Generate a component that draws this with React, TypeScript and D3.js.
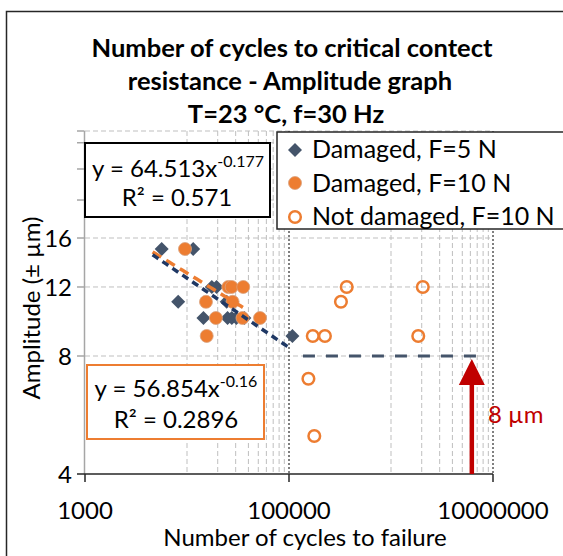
import React from 'react';
import * as d3 from 'd3';

// ---- data ----
const damaged5Cycles = [5650, 11500, 8200, 17500, 19500, 24500, 14500, 25000, 27500, 30500, 36500, 108000];
const damaged5Amp = [15, 15, 11, 12, 12, 11, 10, 10, 10, 10, 10, 9];
const damaged10Cycles = [9560, 25400, 27400, 35600, 15350, 28000, 19200, 35000, 52000, 15600];
const damaged10Amp = [15, 12, 12, 12, 11, 11, 10, 10, 10, 9];
const notDamagedCycles = [368000, 323000, 171000, 225000, 2050000, 1850000, 155000, 177000];
const notDamagedAmp = [12, 11, 9, 9, 12, 9, 7, 5];

const xTickValues = [1000, 100000, 10000000];
const xTickLabels = ['1000', '100000', '10000000'];
const yTickValues = [4, 8, 12, 16];
const yTickLabels = ['4', '8', '12', '16'];
const yGridValues = [8, 12, 16, 20, 24, 28, 30];
const yTickMarks = [8, 12, 16, 20, 24, 28, 30];
const xMinorGrid = [10000, 20000, 30000, 40000, 50000, 60000, 70000, 80000, 90000,
  1000000, 2000000, 3000000, 4000000, 5000000, 6000000, 7000000, 8000000, 9000000];
const xMajorGrid = [100000, 10000000];

// trendlines (power fits as printed on chart)
const trendA = [64.513, 56.854];
const trendB = [-0.177, -0.16];
const trendFrom = [4600, 4600];
const trendTo = [104000, 37000];

const thresholdAmp = 8;
const thresholdFrom = 137000;
const thresholdTo = 7450000;
const arrowCycles = 6200000;

const legendLabels = ['Damaged, F=5 N', 'Damaged, F=10 N', 'Not damaged, F=10 N'];

const FONT = 'Lato, "Open Sans", sans-serif';
const NAVY = '#44546a';
const ORANGE = '#ed7d31';
const RED = '#c00000';

export default function App() {
  const x = d3.scaleLog().domain([1000, 10000000]).range([85, 493]);
  const y = d3.scaleLog().base(2).domain([4, 30]).range([474, 131]);

  const trendPath = (i: number) => {
    const lf = Math.log10(trendFrom[i]);
    const lt = Math.log10(trendTo[i]);
    const pts = d3.range(0, 41).map(k => {
      const n = Math.pow(10, lf + (lt - lf) * k / 40);
      return [n, trendA[i] * Math.pow(n, trendB[i])] as [number, number];
    });
    return d3.line<[number, number]>().x(d => x(d[0])).y(d => y(d[1]))(pts) || '';
  };

  const diamond = (cx: number, cy: number, r: number) =>
    `M${cx},${cy - r}L${cx + r},${cy}L${cx},${cy + r}L${cx - r},${cy}Z`;

  const yTop = y(30);
  const yBot = y(4);

  return (
    <svg width={563} height={556} style={{ position: 'absolute', left: 0, top: 0, background: '#fff' }}
      fontFamily={FONT}>
      <rect x={0} y={0} width={563} height={556} fill="#fff" />
      {/* chart border */}
      <rect x={6.5} y={11.5} width={620} height={620} fill="none" stroke="#262626" strokeWidth={1.5} />

      {/* title */}
      <g fontWeight="bold" fontSize={25.5} textAnchor="middle" fill="#000">
        <text x={292} y={57}>Number of cycles to critical contect</text>
        <text x={290} y={90}>resistance - Amplitude graph</text>
        <text x={286} y={123}>T=23 °C, f=30 Hz</text>
      </g>

      {/* horizontal gridlines */}
      {yGridValues.map(v => (
        <line key={'hg' + v} x1={85} x2={493} y1={y(v)} y2={y(v)} stroke="#bfbfbf" strokeWidth={1} strokeDasharray="5,3" />
      ))}
      {/* vertical minor gridlines */}
      {xMinorGrid.map(v => (
        <line key={'vg' + v} x1={x(v)} x2={x(v)} y1={yTop} y2={yBot} stroke="#bfbfbf" strokeWidth={1} strokeDasharray="5,3" />
      ))}
      {/* vertical major gridlines */}
      {xMajorGrid.map(v => (
        <line key={'vm' + v} x1={x(v)} x2={x(v)} y1={yTop} y2={yBot} stroke="#000" strokeWidth={1} strokeDasharray="2,2" />
      ))}

      {/* y axis */}
      <line x1={84.5} x2={84.5} y1={yTop} y2={yBot} stroke="#a6a6a6" strokeWidth={1.5} />
      {yTickMarks.map(v => (
        <line key={'yt' + v} x1={77} x2={84.5} y1={y(v)} y2={y(v)} stroke="#a6a6a6" strokeWidth={1.5} />
      ))}
      {yTickValues.map((v, i) => (
        <text key={'yl' + v} x={72} y={y(v) + 9} textAnchor="end" fontSize={24} fill="#000">{yTickLabels[i]}</text>
      ))}

      {/* x axis */}
      <line x1={77} x2={493} y1={yBot} y2={yBot} stroke="#262626" strokeWidth={1.5} />
      {xTickValues.map((v, i) => (
        <g key={'xt' + v}>
          <line x1={x(v)} x2={x(v)} y1={yBot} y2={yBot + 8} stroke="#262626" strokeWidth={1.5} />
          <text x={x(v)} y={519} textAnchor="middle" fontSize={24} fill="#000">{xTickLabels[i]}</text>
        </g>
      ))}

      {/* axis titles */}
      <text x={305} y={546} textAnchor="middle" fontSize={24} fill="#000">Number of cycles to failure</text>
      <text transform="translate(40,308) rotate(-90)" textAnchor="middle" fontSize={24} fill="#000">Amplitude (± µm)</text>

      {/* data points */}
      {damaged5Cycles.map((c, i) => (
        <path key={'d5' + i} d={diamond(x(c), y(damaged5Amp[i]), 7)} fill={NAVY} />
      ))}
      {damaged10Cycles.map((c, i) => (
        <circle key={'d10' + i} cx={x(c)} cy={y(damaged10Amp[i])} r={6.5} fill={ORANGE} stroke="#d9a27f" strokeWidth={0.8} />
      ))}
      {notDamagedCycles.map((c, i) => (
        <circle key={'nd' + i} cx={x(c)} cy={y(notDamagedAmp[i])} r={5.8} fill="none" stroke={ORANGE} strokeWidth={2.5} />
      ))}

      {/* trendlines */}
      <path d={trendPath(1)} fill="none" stroke={ORANGE} strokeWidth={3.5} strokeDasharray="10,6" />
      <path d={trendPath(0)} fill="none" stroke="#1f3864" strokeWidth={3.5} strokeDasharray="7,5" />

      {/* 8 um threshold */}
      <line x1={x(thresholdFrom)} x2={x(thresholdTo)} y1={y(thresholdAmp)} y2={y(thresholdAmp)}
        stroke={NAVY} strokeWidth={3} strokeDasharray="12,11" />

      {/* red arrow */}
      <line x1={x(arrowCycles)} x2={x(arrowCycles)} y1={yBot} y2={383} stroke={RED} strokeWidth={4.5} />
      <path d={`M${x(arrowCycles)},${y(thresholdAmp) + 3}L${x(arrowCycles) + 13},385L${x(arrowCycles) - 13},385Z`} fill={RED} />
      <text x={488} y={423} fontSize={24} fill={RED}>8 µm</text>

      {/* equation box 1 */}
      <rect x={85} y={143} width={185} height={74} fill="#fff" stroke="#000" strokeWidth={2} />
      <text x={178} y={177} textAnchor="middle" fontSize={24} fill="#000">
        y = 64.513x<tspan dy={-10} fontSize={16}>-0.177</tspan>
      </text>
      <text x={177} y={206} textAnchor="middle" fontSize={24} fill="#000">R² = 0.571</text>

      {/* equation box 2 */}
      <rect x={87} y={365} width={177} height={74} fill="#fff" stroke={ORANGE} strokeWidth={2} />
      <text x={176} y={397} textAnchor="middle" fontSize={24} fill="#000">
        y = 56.854x<tspan dy={-10} fontSize={16}>-0.16</tspan>
      </text>
      <text x={176} y={428} textAnchor="middle" fontSize={24} fill="#000">R² = 0.2896</text>

      {/* legend */}
      <rect x={277} y={132} width={300} height={97} fill="#fff" stroke="#262626" strokeWidth={1.5} />
      <path d={diamond(295, 150, 7)} fill={NAVY} />
      <circle cx={295} cy={183} r={6.5} fill={ORANGE} stroke="#d9a27f" strokeWidth={0.8} />
      <circle cx={295} cy={217} r={5.8} fill="none" stroke={ORANGE} strokeWidth={2.5} />
      {legendLabels.map((l, i) => (
        <text key={'lg' + i} x={312} y={158 + i * 33.5} fontSize={25} fill="#000">{l}</text>
      ))}
    </svg>
  );
}
